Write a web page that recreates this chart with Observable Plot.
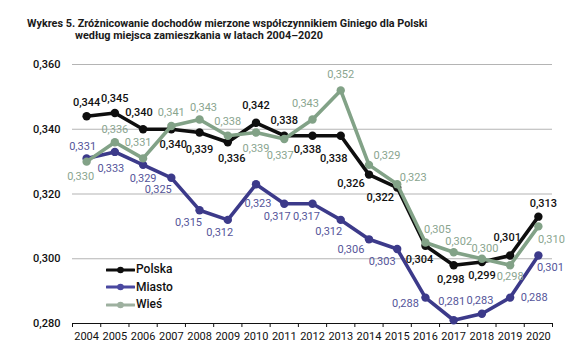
<!DOCTYPE html>
<html><head><meta charset="utf-8">
<script src="https://cdn.jsdelivr.net/npm/d3@7"></script>
<script src="https://cdn.jsdelivr.net/npm/@observablehq/plot@0.6"></script>
<style>
body{margin:0;background:#fff;width:577px;height:362px;overflow:hidden;position:relative;font-family:Roboto,"Open Sans",sans-serif}
#title{position:absolute;left:27px;top:18px;font-weight:bold;font-size:12.5px;line-height:12px;color:#1a1a1a;white-space:nowrap}
#title span{display:inline-block}
#title .l2{padding-left:48px}
#chart{position:absolute;left:0;top:48px}
#legend{position:absolute;left:106px;top:261px;font-size:12px;font-weight:500;color:#111;line-height:17.5px}
#legend div{display:flex;align-items:center;height:17.5px}
#legend svg{margin-right:1px}
</style></head>
<body>
<div id="title"><div><span id="t1">Wykres 5. Zróżnicowanie dochodów mierzone współczynnikiem Giniego dla Polski</span></div><div class="l2"><span id="t2">według miejsca zamieszkania w latach 2004–2020</span></div></div>
<div id="chart"></div>
<div id="legend"></div>
<script>
const years = [2004,2005,2006,2007,2008,2009,2010,2011,2012,2013,2014,2015,2016,2017,2018,2019,2020];
const polska = [0.344,0.345,0.340,0.340,0.339,0.336,0.342,0.338,0.338,0.338,0.326,0.322,0.304,0.298,0.299,0.301,0.313];
const miasto = [0.331,0.333,0.329,0.325,0.315,0.312,0.323,0.317,0.317,0.312,0.306,0.303,0.288,0.281,0.283,0.288,0.301];
const wies   = [0.330,0.336,0.331,0.341,0.343,0.338,0.339,0.337,0.343,0.352,0.329,0.323,0.305,0.302,0.300,0.298,0.310];
const seriesNames = ["Polska","Miasto","Wieś"];
const yTicks = [0.280,0.300,0.320,0.340,0.360];

// fit title line 1 to the reference width (401px)
(function(){
  const w = document.getElementById("t1").getBoundingClientRect().width;
  if (w > 0) document.getElementById("title").style.fontSize = (12.5 * 401 / w).toFixed(2) + "px";
})();

// styling / layout (label offsets in px)
const colors = {"Polska":"#0e0e0e","Miasto":"#3c3a8a","Wieś":"#82a287"};
const legendColors = {"Polska":"#0e0e0e","Miasto":"#4a48a0","Wieś":"#9db09f"};
const labelColors = {"Polska":"#111111","Miasto":"#55559a","Wieś":"#8aa58f"};
const offsets = {
  "Polska": {dx:[0,0,-4,2,0,4,0,0,-5,-7,-18,-17,-6,-3,0,-3,5],
             dy:[-14,-15,-17,15,17,16,-17,-15,14,23,9,10,14,14,13,-18,-13]},
  "Miasto": {dx:[-4,-4,0,-13,-11,-8,2,-7,-6,-12,-18,-15,-20,-2,-2,24,12],
             dy:[-12,17,14,12,12,13,19,13,13,12,10,12,6,-19,-13,0,12]},
  "Wieś":   {dx:[-6,0,-5,0,4,0,0,-4,-7,0,18,16,12,5,3,0,13],
             dy:[15,-13,-16,-14,-12,-14,16,17,-16,-16,-9,-7,-13,-11,-10,11,13]}
};

const valuesBy = {"Polska":polska,"Miasto":miasto,"Wieś":wies};
const fmt = v => v.toFixed(3).replace(".", ",");
const rows = s => years.map((year,i) => ({year, value: valuesBy[s][i], series: s, i}));
const boundaries = years.map(y => y - 0.5).concat([years[years.length-1] + 0.5]);

const marks = [
  Plot.ruleY(yTicks.slice(1), {stroke:"#b4b4b4", strokeWidth:1.2}),
  Plot.ruleY([yTicks[0]], {stroke:"#111", strokeWidth:1.2}),
  Plot.axisY({ticks: yTicks, tickSize: 0, tickPadding: 12, tickFormat: fmt, fontSize: 11, fontWeight: 500, fill:"#111", label: null}),
  Plot.axisX({ticks: years, tickSize: 0, tickPadding: 9, tickFormat: d => String(d), fontSize: 11, fill:"#111", label: null}),
  Plot.axisX({ticks: boundaries, tickSize: 4, tickFormat: () => "", stroke:"#111", label: null})
];
const drawOrder = ["Polska","Miasto","Wieś"];
for (const s of drawOrder) {
  marks.push(Plot.line(rows(s), {x:"year", y:"value", stroke: colors[s], strokeWidth: 3.6, strokeLinejoin:"round"}));
  marks.push(Plot.dot(rows(s), {x:"year", y:"value", fill: colors[s], r: 4.2}));
}
for (const s of drawOrder) {
  rows(s).forEach((d) => {
    marks.push(Plot.text([d], {x:"year", y:"value", text: d => fmt(d.value),
      dx: offsets[s].dx[d.i], dy: offsets[s].dy[d.i], fill: labelColors[s],
      fontSize: 11, fontWeight: s === "Polska" ? 500 : 400}));
  });
}

const chart = Plot.plot({
  width: 577, height: 314,
  marginLeft: 72, marginRight: 25, marginTop: 16, marginBottom: 39,
  style: {fontFamily: "Roboto, 'Open Sans', sans-serif", background: "#fff"},
  x: {type: "linear", domain: [2003.5, 2020.5], label: null},
  y: {domain: [0.280, 0.360], label: null},
  marks
});
document.getElementById("chart").appendChild(chart);

const leg = document.getElementById("legend");
for (const s of seriesNames) {
  const row = document.createElement("div");
  row.innerHTML = `<svg width="29" height="10"><line x1="1" y1="5" x2="28" y2="5" stroke="${legendColors[s]}" stroke-width="3.2" stroke-linecap="round"/><circle cx="14.5" cy="5" r="3.3" fill="${legendColors[s]}"/></svg><span>${s}</span>`;
  leg.appendChild(row);
}
</script>
</body></html>
